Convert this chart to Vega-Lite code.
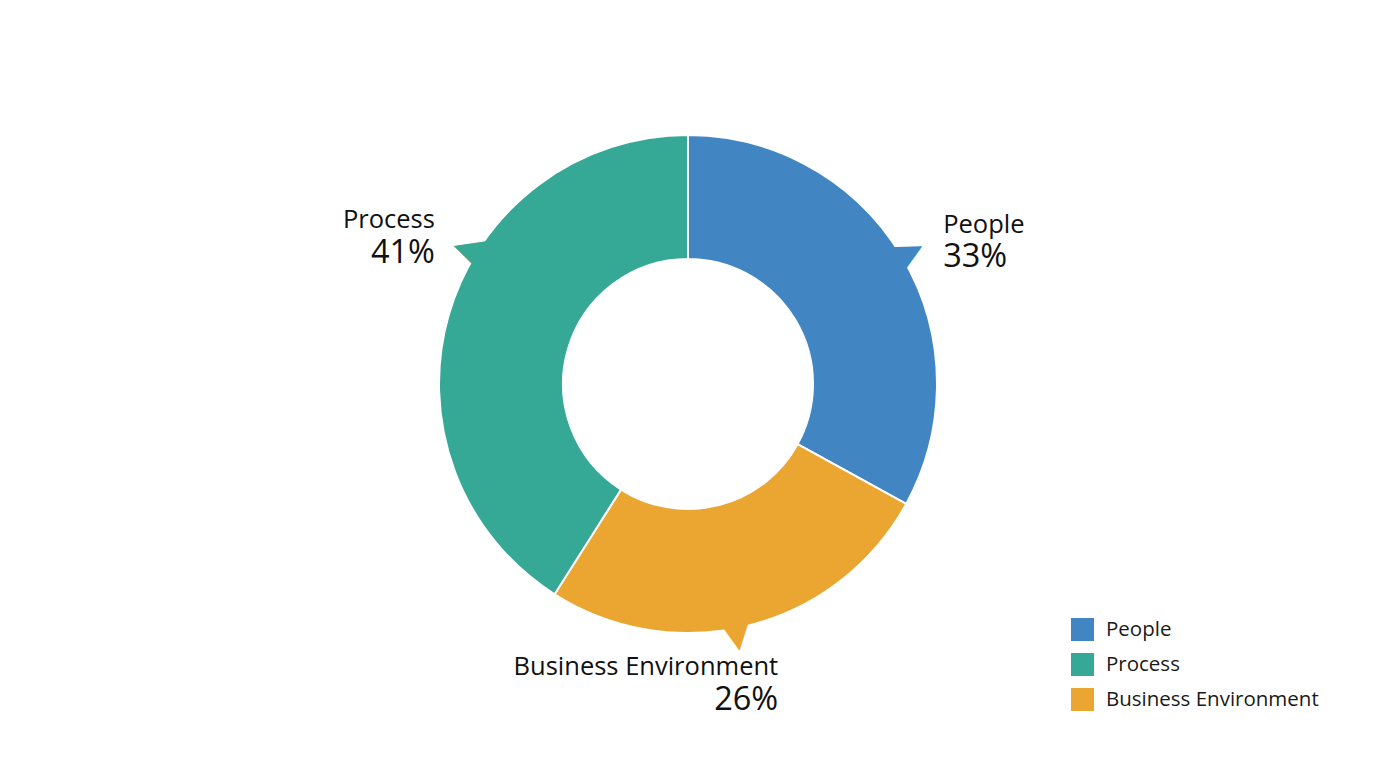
{
  "$schema": "https://vega.github.io/schema/vega-lite/v6.json",
  "width": 1376,
  "height": 768,
  "autosize": {"type": "fit", "contains": "padding"},
  "padding": 0,
  "background": "white",
  "config": {
    "view": {"stroke": null},
    "font": "Open Sans",
    "legend": {
      "orient": "bottom-right",
      "offset": 57,
      "padding": 0,
      "title": null,
      "symbolType": "square",
      "symbolSize": 529,
      "symbolStrokeWidth": 0,
      "labelFont": "Open Sans",
      "labelFontSize": 20.5,
      "labelColor": "#1a1a1a",
      "labelOffset": 12,
      "labelLimit": 400,
      "rowPadding": 12
    }
  },
  "data": {
    "values": [
      {"category": "People", "share": 0.33, "slot": 1},
      {"category": "Business Environment", "share": 0.26, "slot": 2},
      {"category": "Process", "share": 0.41, "slot": 3}
    ]
  },
  "encoding": {
    "theta": {"field": "share", "type": "quantitative", "stack": true},
    "order": {"field": "slot", "type": "quantitative", "sort": "ascending"}
  },
  "layer": [
    {
      "mark": {"type": "arc", "outerRadius": 249, "innerRadius": 125, "stroke": "white", "strokeWidth": 2},
      "encoding": {
        "color": {
          "field": "category",
          "type": "nominal",
          "scale": {
            "domain": ["People", "Process", "Business Environment"],
            "range": ["#4186C2", "#35A896", "#EAA630"]
          },
          "legend": {"title": null}
        }
      }
    },
    {
      "mark": {"type": "text", "radius": 258, "fontSize": 40, "font": "DejaVu Sans", "angle": 62, "color": "#4186C2", "align": "center", "baseline": "middle"},
      "encoding": {"text": {"condition": {"test": "datum.category === 'People'", "value": "▲"}, "value": ""}}
    },
    {
      "mark": {"type": "text", "radius": 258, "fontSize": 40, "font": "DejaVu Sans", "angle": 171, "color": "#EAA630", "align": "center", "baseline": "middle", "dx": 15, "dy": -1},
      "encoding": {"text": {"condition": {"test": "datum.category === 'Business Environment'", "value": "▲"}, "value": ""}}
    },
    {
      "mark": {"type": "text", "radius": 258, "fontSize": 40, "font": "DejaVu Sans", "angle": 288, "color": "#35A896", "align": "center", "baseline": "middle", "dx": 67, "dy": 6},
      "encoding": {"text": {"condition": {"test": "datum.category === 'Process'", "value": "▲"}, "value": ""}}
    },
    {
      "mark": {"type": "text", "radius": 250, "fontSize": 25.5, "color": "#111111", "align": "left", "baseline": "alphabetic", "dx": 40, "dy": -24},
      "encoding": {"text": {"condition": {"test": "datum.category === 'People'", "field": "category", "type": "nominal"}, "value": ""}}
    },
    {
      "mark": {"type": "text", "radius": 250, "fontSize": 32.5, "color": "#111111", "align": "left", "baseline": "alphabetic", "dx": 40, "dy": 10},
      "encoding": {"text": {"condition": {"test": "datum.category === 'People'", "field": "share", "type": "quantitative", "format": ".0%"}, "value": ""}}
    },
    {
      "mark": {"type": "text", "radius": 250, "fontSize": 25.5, "color": "#111111", "align": "right", "baseline": "alphabetic", "dx": 28, "dy": 49},
      "encoding": {"text": {"condition": {"test": "datum.category === 'Business Environment'", "field": "category", "type": "nominal"}, "value": ""}}
    },
    {
      "mark": {"type": "text", "radius": 250, "fontSize": 32.5, "color": "#111111", "align": "right", "baseline": "alphabetic", "dx": 28, "dy": 84},
      "encoding": {"text": {"condition": {"test": "datum.category === 'Business Environment'", "field": "share", "type": "quantitative", "format": ".0%"}, "value": ""}}
    },
    {
      "mark": {"type": "text", "radius": 250, "fontSize": 25.5, "color": "#111111", "align": "right", "baseline": "alphabetic", "dx": -13, "dy": -86},
      "encoding": {"text": {"condition": {"test": "datum.category === 'Process'", "field": "category", "type": "nominal"}, "value": ""}}
    },
    {
      "mark": {"type": "text", "radius": 250, "fontSize": 32.5, "color": "#111111", "align": "right", "baseline": "alphabetic", "dx": -13, "dy": -51},
      "encoding": {"text": {"condition": {"test": "datum.category === 'Process'", "field": "share", "type": "quantitative", "format": ".0%"}, "value": ""}}
    }
  ]
}
